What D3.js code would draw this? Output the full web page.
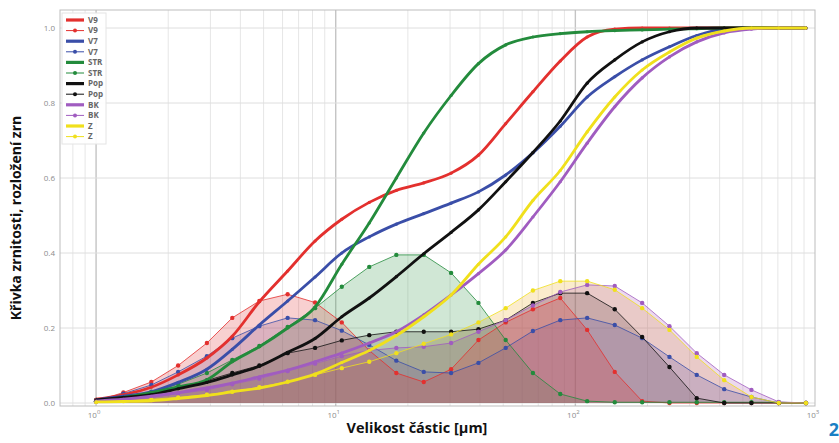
<!DOCTYPE html>
<html>
<head>
<meta charset="utf-8">
<script src="https://cdn.jsdelivr.net/npm/d3@7"></script>
<style>
  body { margin: 0; background: #fff; }
  text { font-family: "Open Sans", "Noto Sans", sans-serif; }
</style>
</head>
<body>
<div id="chart"></div>
<script>
// particle sizes [um]
var sizes = [1.0, 1.3, 1.7, 2.2, 2.9, 3.7, 4.8, 6.3, 8.2, 10.6, 13.8, 17.9, 23.3, 30.3,
  39.4, 51.2, 66.5, 86.5, 112, 146, 190, 247, 321, 418, 543, 706, 917];

var names = ["V9", "V7", "STR", "Pop", "BK", "Z"];

// cumulative curves
var v9Cum  = [0.01, 0.022, 0.042, 0.075, 0.12, 0.178, 0.27, 0.352, 0.432, 0.49, 0.535, 0.567, 0.587, 0.613,
  0.661, 0.745, 0.83, 0.912, 0.976, 0.997, 1, 1, 1, 1, 1, 1, 1];
var v7Cum  = [0.008, 0.018, 0.03, 0.055, 0.09, 0.143, 0.208, 0.272, 0.336, 0.4, 0.443, 0.477, 0.505, 0.533,
  0.563, 0.608, 0.667, 0.738, 0.816, 0.87, 0.915, 0.95, 0.98, 0.997, 1, 1, 1];
var strCum = [0.005, 0.015, 0.028, 0.043, 0.062, 0.11, 0.15, 0.2, 0.256, 0.37, 0.48, 0.6, 0.72, 0.82,
  0.905, 0.955, 0.976, 0.985, 0.99, 0.993, 0.995, 0.997, 0.998, 1, 1, 1, 1];
var popCum = [0.008, 0.015, 0.022, 0.038, 0.055, 0.075, 0.098, 0.135, 0.172, 0.23, 0.28, 0.337, 0.398, 0.455,
  0.515, 0.59, 0.668, 0.752, 0.853, 0.915, 0.963, 0.99, 1, 1, 1, 1, 1];
var bkCum  = [0.005, 0.01, 0.018, 0.028, 0.04, 0.053, 0.07, 0.088, 0.11, 0.133, 0.16, 0.19, 0.235, 0.288,
  0.345, 0.408, 0.496, 0.59, 0.693, 0.79, 0.867, 0.923, 0.963, 0.987, 0.997, 1, 1];
var zCum   = [0.003, 0.004, 0.006, 0.012, 0.02, 0.03, 0.04, 0.056, 0.077, 0.108, 0.14, 0.18, 0.23, 0.288,
  0.37, 0.443, 0.54, 0.62, 0.723, 0.816, 0.888, 0.936, 0.973, 0.992, 1, 1, 1];

// distributions
var v9Dist  = [0.005, 0.028, 0.056, 0.1, 0.16, 0.227, 0.272, 0.29, 0.268, 0.215, 0.14, 0.08, 0.056, 0.09,
  0.168, 0.215, 0.25, 0.28, 0.195, 0.083, 0.005, 0, 0, 0, 0, 0, 0];
var v7Dist  = [0.005, 0.025, 0.048, 0.083, 0.125, 0.173, 0.205, 0.227, 0.221, 0.193, 0.155, 0.113, 0.083, 0.08,
  0.107, 0.147, 0.192, 0.221, 0.227, 0.208, 0.173, 0.123, 0.075, 0.037, 0.016, 0, 0];
var strDist = [0.005, 0.015, 0.03, 0.05, 0.08, 0.115, 0.152, 0.203, 0.253, 0.31, 0.363, 0.395, 0.395, 0.347,
  0.267, 0.168, 0.08, 0.024, 0.005, 0.002, 0.002, 0.002, 0.002, 0.002, 0.002, 0.002, 0];
var popDist = [0.008, 0.015, 0.027, 0.04, 0.06, 0.08, 0.1, 0.133, 0.147, 0.167, 0.181, 0.19, 0.19, 0.19,
  0.197, 0.221, 0.267, 0.293, 0.293, 0.25, 0.176, 0.096, 0.013, 0, 0, 0, 0];
var bkDist  = [0.003, 0.008, 0.015, 0.025, 0.035, 0.05, 0.065, 0.085, 0.105, 0.125, 0.14, 0.147, 0.15, 0.16,
  0.19, 0.221, 0.26, 0.296, 0.315, 0.312, 0.267, 0.205, 0.133, 0.075, 0.035, 0.003, 0];
var zDist   = [0.003, 0.005, 0.01, 0.015, 0.022, 0.03, 0.042, 0.057, 0.075, 0.093, 0.11, 0.133, 0.158, 0.183,
  0.215, 0.253, 0.3, 0.325, 0.325, 0.302, 0.253, 0.195, 0.123, 0.061, 0.016, 0, 0];

var yTicks = [0, 0.2, 0.4, 0.6, 0.8, 1.0];
var xTicks = [1, 10, 100, 1000];

var cums = [v9Cum, v7Cum, strCum, popCum, bkCum, zCum];
var dists = [v9Dist, v7Dist, strDist, popDist, bkDist, zDist];
var colors = ["#e3302e", "#3a4ea8", "#238b3c", "#111111", "#a05cc0", "#f0e01c"];
// fill tints under the distribution curves
var fills = ["#e03c3c", "#6a5aa8", "#3c9a50", "#6a4a4a", "#b060b8", "#f0b030"];

var W = 839, H = 443;
var box = {left: 60, right: 815, top: 10, bottom: 406};

var svg = d3.select("#chart").append("svg")
  .attr("width", W).attr("height", H);

var x = d3.scaleLog().domain([0.707, 1000]).range([box.left, box.right]);
var y = d3.scaleLinear().domain([0, 1]).range([403, 28]);

// grid
var grid = svg.append("g");
grid.selectAll(".vminor")
  .data(x.ticks().filter(function(d) { return d < 1000; }))
  .enter().append("line")
  .attr("x1", function(d) { return x(d); }).attr("x2", function(d) { return x(d); })
  .attr("y1", box.top).attr("y2", box.bottom)
  .attr("stroke", function(d) { return xTicks.indexOf(d) >= 0 ? "#c4c4c4" : "#e6e6e6"; })
  .attr("stroke-width", function(d) { return xTicks.indexOf(d) >= 0 ? 1.4 : 1; });
grid.selectAll(".hgrid")
  .data(yTicks)
  .enter().append("line")
  .attr("x1", box.left).attr("x2", box.right)
  .attr("y1", function(d) { return y(d); }).attr("y2", function(d) { return y(d); })
  .attr("stroke", "#dedede");
svg.append("rect")
  .attr("x", box.left).attr("y", box.top)
  .attr("width", box.right - box.left).attr("height", box.bottom - box.top)
  .attr("fill", "none").attr("stroke", "#bdbdbd");

// tick labels
svg.selectAll(".ylab")
  .data(yTicks)
  .enter().append("text")
  .attr("x", 55).attr("y", function(d) { return y(d) + 3; })
  .attr("text-anchor", "end")
  .attr("font-size", 8).attr("fill", "#8c8c8c")
  .text(d3.format(".1f"));
var xl = svg.selectAll(".xlab")
  .data(xTicks)
  .enter().append("text")
  .attr("x", function(d) { return x(d) - 2; }).attr("y", 418)
  .attr("text-anchor", "middle")
  .attr("font-size", 8).attr("fill", "#8c8c8c");
xl.append("tspan").text("10");
xl.append("tspan").attr("dy", -4).attr("font-size", 6)
  .text(function(d) { return Math.round(Math.log10(d)); });

// curves
var area = d3.area()
  .x(function(d, i) { return x(sizes[i]); })
  .y0(y(0)).y1(function(d) { return y(d); });
var thin = d3.line()
  .x(function(d, i) { return x(sizes[i]); })
  .y(function(d) { return y(d); });
var smooth = d3.line()
  .curve(d3.curveMonotoneX)
  .x(function(d, i) { return x(sizes[i]); })
  .y(function(d) { return y(d); });

// fills, last series at the bottom so the red one ends on top
dists.slice().reverse().forEach(function(s, r) {
  var k = dists.length - 1 - r;
  svg.append("path").attr("d", area(s))
    .attr("fill", fills[k]).attr("fill-opacity", 0.24).attr("stroke", "none");
});
dists.forEach(function(s, k) {
  svg.append("path").attr("d", thin(s))
    .attr("fill", "none").attr("stroke", colors[k]).attr("stroke-width", 1).attr("stroke-opacity", 0.8);
  svg.append("g").selectAll("circle")
    .data(s).enter().append("circle")
    .attr("cx", function(d, i) { return x(sizes[i]); })
    .attr("cy", function(d) { return y(d); })
    .attr("r", 2.2).attr("fill", colors[k]);
});
cums.forEach(function(s, k) {
  svg.append("path").attr("d", smooth(s))
    .attr("fill", "none").attr("stroke", colors[k]).attr("stroke-width", 2.8);
  svg.append("g").selectAll("circle")
    .data(s).enter().append("circle")
    .attr("cx", function(d, i) { return x(sizes[i]); })
    .attr("cy", function(d) { return y(d); })
    .attr("r", 1.6).attr("fill", colors[k]);
});

// legend
var leg = svg.append("g").attr("transform", "translate(62,13)");
leg.append("rect").attr("width", 44).attr("height", 131)
  .attr("fill", "#fff").attr("fill-opacity", 0.9).attr("stroke", "#e4e4e4");
names.forEach(function(n, k) {
  [0, 1].forEach(function(j) {
    var yy = 7 + (k * 2 + j) * 10.6;
    leg.append("line").attr("x1", 4).attr("x2", 22).attr("y1", yy).attr("y2", yy)
      .attr("stroke", colors[k]).attr("stroke-width", j == 0 ? 3.2 : 1);
    if (j == 1) {
      leg.append("circle").attr("cx", 13).attr("cy", yy).attr("r", 2).attr("fill", colors[k]);
    }
    leg.append("text").attr("x", 26).attr("y", yy + 2.8)
      .attr("font-size", 8).attr("font-weight", "bold").attr("fill", "#666")
      .text(n);
  });
});

// titles
svg.append("text")
  .attr("x", 417).attr("y", 433)
  .attr("text-anchor", "middle")
  .attr("font-size", 14.5).attr("font-weight", "bold").attr("fill", "#111")
  .text("Velikost částic [µm]");
svg.append("text")
  .attr("transform", "translate(21,218) rotate(-90)")
  .attr("text-anchor", "middle")
  .attr("font-size", 14).attr("font-weight", "bold").attr("fill", "#111")
  .text("Křivka zrnitosti, rozložení zrn");
svg.append("text")
  .attr("x", 839).attr("y", 436)
  .attr("text-anchor", "end")
  .attr("font-size", 18).attr("font-weight", "bold").attr("fill", "#1a7fc4")
  .text("2");
</script>
</body>
</html>
